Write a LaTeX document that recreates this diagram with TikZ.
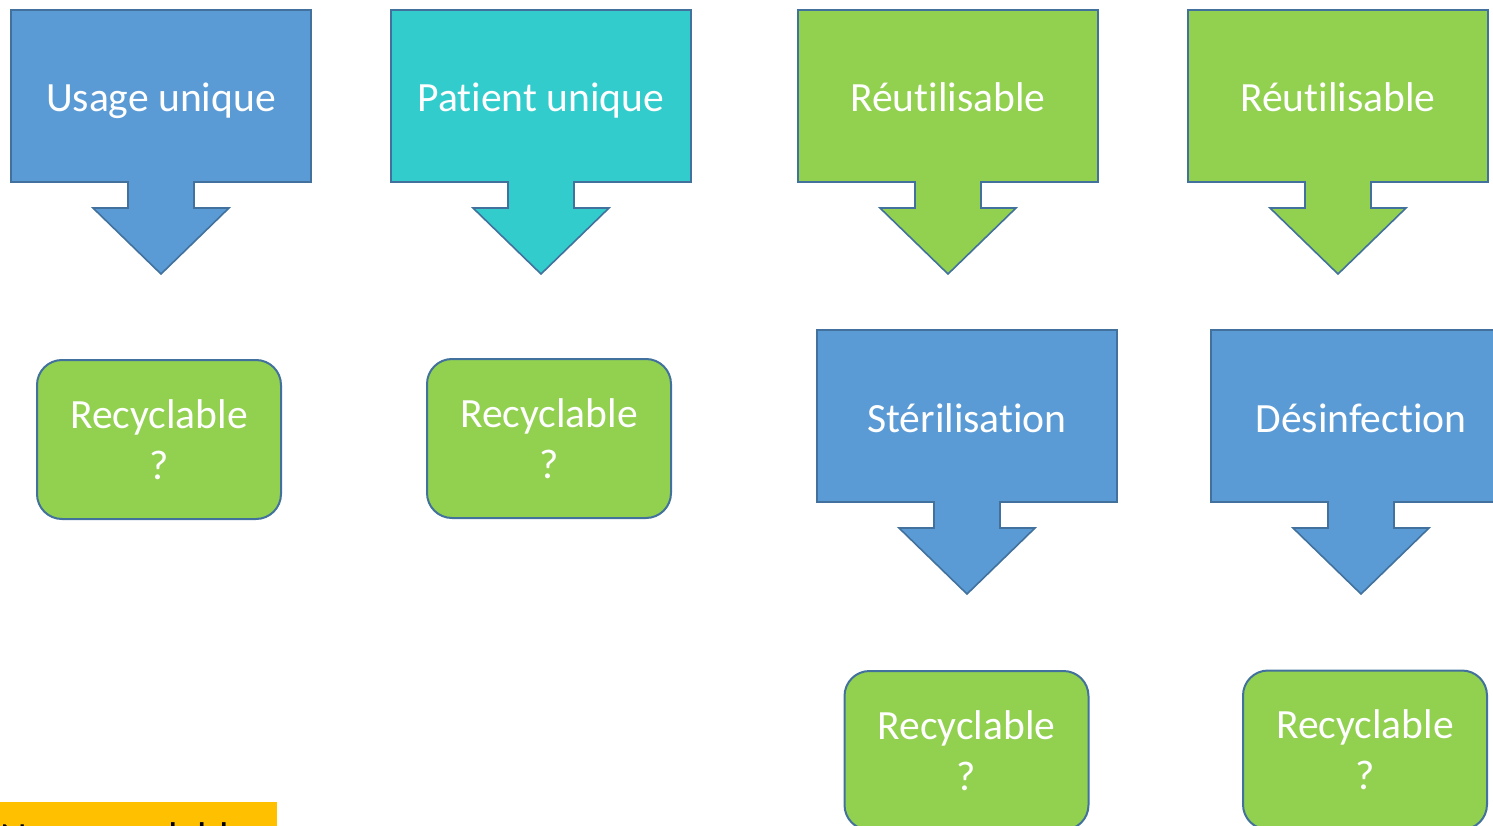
\documentclass[tikz,border=0pt]{standalone}
\usepackage{fontspec}
\setmainfont{Carlito}[Ligatures=NoCommon]
\definecolor{edgeblue}{HTML}{41719C}
\definecolor{stepblue}{HTML}{5B9BD5}
\definecolor{stepteal}{HTML}{33CCCC}
\definecolor{stepgreen}{HTML}{92D050}
\definecolor{tagorange}{HTML}{FFC000}
\tikzset{
  calloutbody/.style={draw=edgeblue, line width=1.6pt, line join=miter},
  calltext/.style={text=white, font=\fontsize{41.6}{51}\selectfont, inner sep=0pt, anchor=base},
  roundbox/.style={draw=edgeblue, line width=2pt, fill=stepgreen, rounded corners=25pt,
    minimum width=244pt, minimum height=159pt, text=white,
    font=\fontsize{41.6}{51}\selectfont, align=center, inner sep=0pt},
}
% down-arrow callout: name, left x, top y, fill colour, text
\newcommand\downcallout[5]{%
  \draw[calloutbody, fill=#4] (#2,#3) -- ++(300,0) -- ++(0,172) -- ++(-117,0)
    -- ++(0,26) -- ++(35,0) -- ++(-68,66) -- ++(-68,-66) -- ++(35,0)
    -- ++(0,-26) -- ++(-117,0) -- cycle;
  \node[calltext] (#1) at ({#2+150},{#3+102}) {#5};
}
\begin{document}
\begin{tikzpicture}[x=1pt, y=-1pt]
  \useasboundingbox (0,0) rectangle (1493,826);
  \clip (0,0) rectangle (1493,826);

  % top row of callouts
  \downcallout{usage}{11}{10}{stepblue}{Usage unique}
  \downcallout{patient}{391}{10}{stepteal}{Patient unique}
  \downcallout{reuseA}{798}{10}{stepgreen}{Réutilisable}
  \downcallout{reuseB}{1188}{10}{stepgreen}{Réutilisable}

  % treatment callouts
  \downcallout{steril}{817}{330}{stepblue}{Stérilisation}
  \downcallout{desinf}{1211}{330}{stepblue}{Désinfection}

  % recyclability questions
  \node[roundbox] (recA) at (159,439.5) {Recyclable\\?};
  \node[roundbox] (recB) at (549,438.5) {Recyclable\\?};
  \node[roundbox] (recC) at (966.5,750.5) {Recyclable\\?};
  \node[roundbox] (recD) at (1365,750) {Recyclable\\?};

  % legend tag
  \fill[tagorange] (-5,802) rectangle (277,900);
  \node[anchor=base west, inner sep=0pt, font=\fontsize{41.6}{51}\selectfont] (nonrec) at (0,851) {Non recyclable};
\end{tikzpicture}
\end{document}
